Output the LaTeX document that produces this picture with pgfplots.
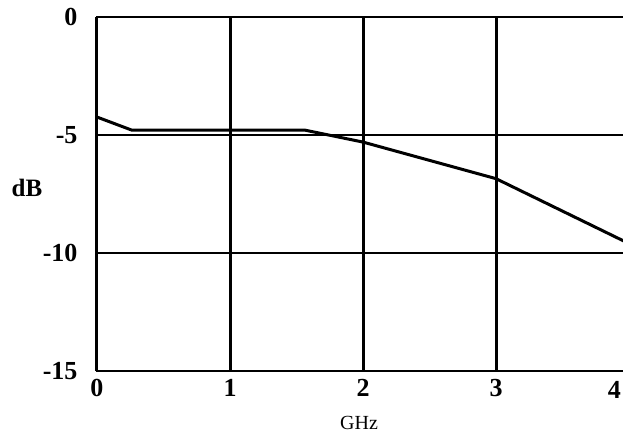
\documentclass[border=0pt]{standalone}
\usepackage{pgfplots}
\pgfplotsset{compat=1.18}
\usepackage{fontspec}
\setmainfont{Liberation Serif}
\begin{document}
\begin{tikzpicture}
\begin{axis}[
  at={(0pt,0pt)}, anchor=south west,
  scale only axis, width=532pt, height=354pt,
  xmin=0, xmax=4, ymin=-15, ymax=0,
  xtick={0,1,2,3,4}, xticklabels={0,1,2,3,{}},
  ytick={-15,-10,-5,0},
  major tick length=0pt,
  /pgf/number format/assume math mode=true,
  ticklabel style={font=\fontsize{26}{26}\selectfont\bfseries},
  xticklabel style={yshift=-5pt},
  yticklabel style={xshift=-16pt},
  axis line style={line width=2pt},
  xmajorgrids, ymajorgrids,
  major x grid style={black, line width=3pt},
  major y grid style={black, line width=1.8pt},
]
\addplot[black, line width=3pt] coordinates {
  (0,-4.24) (0.26,-4.79) (1.56,-4.79) (2,-5.3) (3,-6.85) (4,-9.6)
};
\end{axis}
\node[font=\fontsize{26}{26}\selectfont\bfseries, anchor=north east, inner sep=1pt] at (525pt,-9pt) {4};
\node[font=\fontsize{25}{25}\selectfont\bfseries] at (-70pt,183pt) {dB};
\node[font=\fontsize{20}{20}\selectfont] at (262pt,-52pt) {GHz};
\pgfresetboundingbox
\useasboundingbox (-97pt,-63pt) rectangle (526pt,371pt);
\end{tikzpicture}
\end{document}
